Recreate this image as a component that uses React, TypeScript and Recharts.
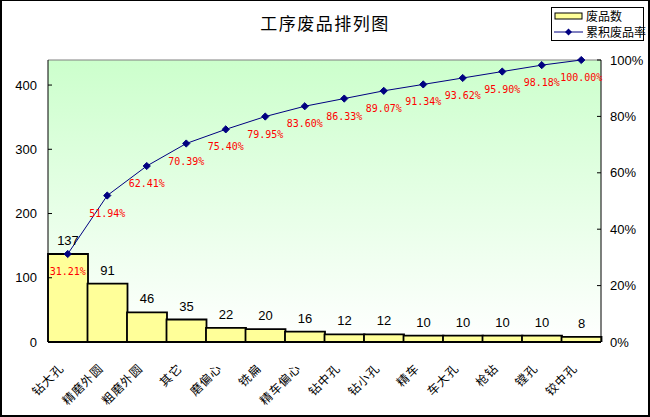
import React from 'react';
import {
  ComposedChart,
  Bar,
  Line,
  XAxis,
  YAxis,
  CartesianGrid,
  LabelList,
  Legend,
  ReferenceLine,
} from 'recharts';

const categories = ['钻大孔', '精磨外圆', '粗磨外圆', '其它', '磨偏心', '铣扁', '精车偏心', '钻中孔', '钻小孔', '精车', '车大孔', '枪钻', '镗孔', '铰中孔'];
const defects = [137, 91, 46, 35, 22, 20, 16, 12, 12, 10, 10, 10, 10, 8];
const cumulativePct = [31.21, 51.94, 62.41, 70.39, 75.4, 79.95, 83.6, 86.33, 89.07, 91.34, 93.62, 95.9, 98.18, 100.0];
const leftTicks = [0, 100, 200, 300, 400];
const rightTicks = [0, 20, 40, 60, 80, 100];
const leftMax = 439;

const data = categories.map((name, i) => ({ name, count: defects[i], pct: cumulativePct[i] }));

const numFont = '"Liberation Sans", Arial, sans-serif';
const cjkFont = '"Noto Sans CJK SC", sans-serif';

const XTick = (props: any) => {
  const { x, y, payload } = props;
  return (
    <g transform={`translate(${x - 3},${y + 19})`}>
      <text
        transform="rotate(-45)"
        textAnchor="end"
        fontSize={12}
        fontFamily={cjkFont}
        fill="#000"
        letterSpacing={1}
      >
        {payload.value}
      </text>
    </g>
  );
};

const Diamond = (props: any) => {
  const { cx, cy, index } = props;
  if (cx == null || cy == null) return <g key={index} />;
  const r = 3.6;
  return (
    <path
      key={index}
      d={`M${cx},${cy - r} L${cx + r},${cy} L${cx},${cy + r} L${cx - r},${cy} Z`}
      fill="#000080"
      stroke="#000080"
    />
  );
};

const BarValue = (props: any) => {
  const { x, y, width, value } = props;
  return (
    <text x={x + width / 2} y={y - 9} textAnchor="middle" fontSize={13} fontFamily={numFont} fill="#000">
      {value}
    </text>
  );
};

const PctValue = (props: any) => {
  const { x, y, value } = props;
  return (
    <text
      x={x}
      y={y + 21}
      textAnchor="middle"
      fontSize={10}
      fontFamily='"DejaVu Sans Mono", "Liberation Mono", monospace'
      fill="#ff0000"
    >
      {`${Number(value).toFixed(2)}%`}
    </text>
  );
};

const LegendBox = (props: any) => {
  const payload = props.payload || [];
  return (
    <div
      style={{
        border: '1px solid #000',
        background: '#fff',
        width: 91,
        height: 32,
        boxSizing: 'content-box',
        fontFamily: cjkFont,
        fontSize: 12,
        color: '#000',
        whiteSpace: 'nowrap',
      }}
    >
      {payload.map((entry: any, i: number) => (
        <div key={i} style={{ display: 'flex', alignItems: 'center', height: 16, paddingLeft: 2 }}>
          {entry.type === 'rect' ? (
            <svg width={30} height={10} style={{ marginRight: 2, flex: 'none' }}>
              <rect x={1} y={2} width={27} height={6} fill="#ffff99" stroke="#000" strokeWidth={1} />
            </svg>
          ) : (
            <svg width={30} height={10} style={{ marginRight: 2, flex: 'none' }}>
              <line x1={0} y1={5} x2={29} y2={5} stroke="#000080" strokeWidth={1} />
              <path d="M14.5,1.5 L18,5 L14.5,8.5 L11,5 Z" fill="#000080" />
            </svg>
          )}
          <span style={{ lineHeight: '16px' }}>{entry.value}</span>
        </div>
      ))}
    </div>
  );
};

export default function App() {
  return (
    <div style={{ position: 'absolute', left: 0, top: 0, width: 650, height: 417, background: '#fff' }}>
      <ComposedChart
        width={650}
        height={417}
        data={data}
        margin={{ top: 60, right: 0, bottom: 0, left: 0 }}
        barCategoryGap={0}
        barGap={0}
      >
        <defs>
          <linearGradient id="plotBg" x1="0" y1="0" x2="0" y2="1">
            <stop offset="0%" stopColor="#ccffcc" />
            <stop offset="100%" stopColor="#ffffff" />
          </linearGradient>
        </defs>
        <CartesianGrid fill="url(#plotBg)" horizontal={false} vertical={false} />
        <XAxis
          dataKey="name"
          interval={0}
          tick={<XTick />}
          tickLine={false}
          axisLine={{ stroke: '#000', strokeWidth: 2 }}
          height={75}
        />
        <YAxis
          yAxisId="left"
          orientation="left"
          domain={[0, leftMax]}
          ticks={leftTicks}
          width={48}
          tickSize={-4}
          tickMargin={15}
          axisLine={{ stroke: '#000' }}
          tickLine={{ stroke: '#000' }}
          tick={{ fill: '#000', fontSize: 13, fontFamily: numFont }}
          allowDataOverflow
        />
        <YAxis
          yAxisId="right"
          orientation="right"
          domain={[0, 100]}
          ticks={rightTicks}
          width={49}
          tickSize={-4}
          tickMargin={13}
          tickFormatter={(v: number) => `${v}%`}
          axisLine={{ stroke: '#000' }}
          tickLine={{ stroke: '#000' }}
          tick={{ fill: '#000', fontSize: 13, fontFamily: numFont, textAnchor: 'start' }}
        />
        <ReferenceLine yAxisId="left" y={leftMax} stroke="#808080" strokeWidth={1} />
        <Legend
          layout="vertical"
          align="center"
          verticalAlign="middle"
          content={<LegendBox />}
          wrapperStyle={{ top: 7, left: 551, width: 93, height: 34 }}
        />
        <Bar
          yAxisId="left"
          dataKey="count"
          name="废品数"
          fill="#ffff99"
          stroke="#000"
          strokeWidth={1.8}
          isAnimationActive={false}
          legendType="rect"
        >
          <LabelList dataKey="count" content={<BarValue />} />
        </Bar>
        <Line
          yAxisId="right"
          dataKey="pct"
          name="累积废品率"
          stroke="#000080"
          strokeWidth={1}
          dot={<Diamond />}
          activeDot={false}
          isAnimationActive={false}
          legendType="line"
        >
          <LabelList dataKey="pct" content={<PctValue />} />
        </Line>
      </ComposedChart>
      <div
        style={{
          position: 'absolute',
          left: 0,
          top: 12,
          width: 650,
          textAlign: 'center',
          fontFamily: cjkFont,
          fontSize: 17,
          lineHeight: '22px',
          color: '#000',
        }}
      >
        <span style={{ letterSpacing: 1.5 }}>工序废品排列图</span>
      </div>
      <div
        style={{
          position: 'absolute',
          left: 0,
          top: 0,
          width: 650,
          height: 417,
          boxSizing: 'border-box',
          borderTop: '1px solid #000',
          borderLeft: '2px solid #000',
          borderRight: '2px solid #000',
          borderBottom: '2px solid #000',
          pointerEvents: 'none',
        }}
      />
    </div>
  );
}
